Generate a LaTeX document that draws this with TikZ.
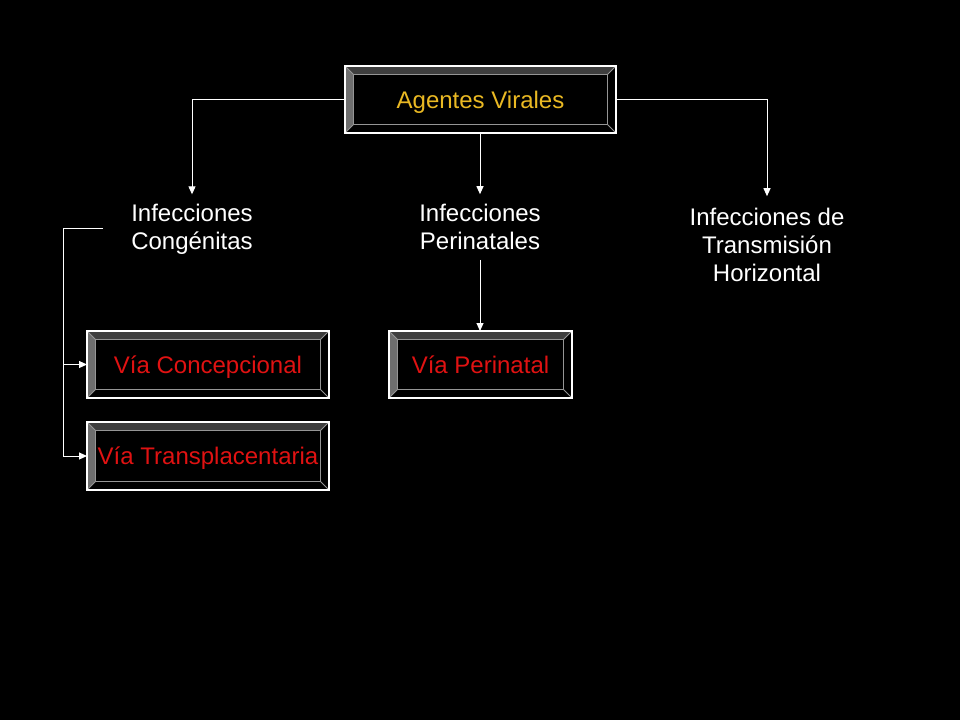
\documentclass[tikz,border=0pt]{standalone}
\usepackage{fontspec}
\setmainfont{Liberation Sans}
\usetikzlibrary{arrows.meta}
\definecolor{bevtop}{HTML}{3E3E3E}
\definecolor{bevleft}{HTML}{6E6E6E}
\definecolor{bevline}{HTML}{959595}
\definecolor{gold}{HTML}{EAB923}
\definecolor{vred}{HTML}{E01212}
\tikzset{
  bevelbox/.style={draw=white, line width=1.1pt, fill=black, inner sep=0pt, outer sep=0pt,
    font=\fontsize{24}{28}\selectfont, text height=17pt, text depth=0pt,
    path picture={
      \def\bv{8.5pt}
      \fill[bevtop] (path picture bounding box.north west) -- (path picture bounding box.north east)
        -- ([xshift=-\bv,yshift=-\bv]path picture bounding box.north east)
        -- ([xshift=\bv,yshift=-\bv]path picture bounding box.north west) -- cycle;
      \fill[bevleft] (path picture bounding box.north west) -- (path picture bounding box.south west)
        -- ([xshift=\bv,yshift=\bv]path picture bounding box.south west)
        -- ([xshift=\bv,yshift=-\bv]path picture bounding box.north west) -- cycle;
      \draw[bevline, line width=1.6pt] ([xshift=\bv,yshift=-\bv]path picture bounding box.north west)
        rectangle ([xshift=-\bv,yshift=\bv]path picture bounding box.south east);
      \draw[bevline, line width=0.8pt]
        (path picture bounding box.north west) -- ([xshift=\bv,yshift=-\bv]path picture bounding box.north west)
        (path picture bounding box.north east) -- ([xshift=-\bv,yshift=-\bv]path picture bounding box.north east)
        (path picture bounding box.south west) -- ([xshift=\bv,yshift=\bv]path picture bounding box.south west)
        (path picture bounding box.south east) -- ([xshift=-\bv,yshift=\bv]path picture bounding box.south east);
    }},
  label/.style={text=white, align=center, font=\fontsize{24}{28}\selectfont, outer sep=0pt},
  conn/.style={draw=white, line width=1pt},
  arr/.style={conn, -{Triangle[width=7pt,length=8pt]}}
}
\begin{document}
\begin{tikzpicture}[x=1pt,y=-1pt]
\fill[black] (0,0) rectangle (960,720);
\useasboundingbox (0,0) rectangle (960,720);

\node[bevelbox, minimum width=271pt, minimum height=67pt, text=gold] (agentes) at (480.5,99.5) {Agentes Virales};
\node[bevelbox, minimum width=242pt, minimum height=67pt, text=vred] (viacon) at (208,364.5) {Vía Concepcional};
\node[bevelbox, minimum width=242pt, minimum height=68pt, text=vred] (viatrans) at (208,456) {Vía Transplacentaria};
\node[bevelbox, minimum width=183pt, minimum height=67pt, text=vred] (viaperi) at (480.5,364.5) {Vía Perinatal};

\node[label, inner sep=10pt] (cong) at (192,229.5) {Infecciones\\Congénitas};
\node[label, inner sep=10pt] (peri) at (480,227) {Infecciones\\Perinatales};
\node[label, inner sep=12pt] (horiz) at (767,245) {Infecciones de\\Transmisión\\Horizontal};

\coordinate (cstart) at (103,228);
\coordinate (lbus) at (63,228);

\draw[arr] (agentes.west) -| (cong.north);
\draw[arr] (agentes.east) -| (horiz.north);
\draw[arr] (agentes.south -| peri.north) -- (peri.north);
\draw[arr] (peri.south) -- (viaperi.north -| peri.south);
\draw[arr] (cstart) -- (lbus) |- (viacon.west);
\draw[arr] (lbus) |- (viatrans.west);
\end{tikzpicture}
\end{document}
